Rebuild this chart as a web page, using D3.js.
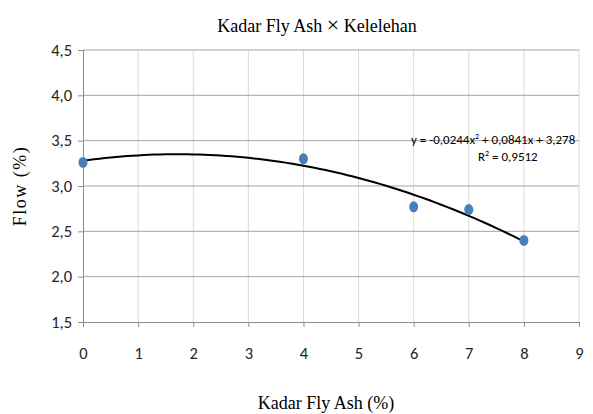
<!DOCTYPE html>
<html>
<head>
<meta charset="utf-8">
<script src="https://cdn.jsdelivr.net/npm/d3@7"></script>
<style>
  body { margin: 0; background: #fff; }
  svg { display: block; }
</style>
</head>
<body>
<script>
// data
var kadar = [0, 4, 6, 7, 8];
var flow = [3.26, 3.30, 2.77, 2.74, 2.40];
// trendline coefficients as printed on the chart (a x^2 + b x + c)
var trendCoef = [-0.0244, 0.0841, 3.278];
var xTicks = [0, 1, 2, 3, 4, 5, 6, 7, 8, 9];
var yTicks = [1.5, 2.0, 2.5, 3.0, 3.5, 4.0, 4.5];

(function () {
    var width = 593, height = 414;
    var plotLeft = 83, plotRight = 579, plotTop = 50, plotBottom = 322;

    var svg = d3.select('body').append('svg').attr('width', width).attr('height', height);

    var x = d3.scaleLinear().domain([0, 9]).range([plotLeft, plotRight]);
    var y = d3.scaleLinear().domain([1.5, 4.5]).range([plotBottom, plotTop]);

    var fmt = function (d) { return d3.format('.1f')(d).replace('.', ','); };
    var tickFont = '"Liberation Sans Narrow", "Arial Narrow", Carlito, "Open Sans", sans-serif';

    // vertical gridlines (light)
    svg.append('g').selectAll('line').data(xTicks.slice(1)).enter().append('line')
        .attr('x1', function (d) { return x(d); }).attr('x2', function (d) { return x(d); })
        .attr('y1', plotTop).attr('y2', plotBottom)
        .attr('stroke', '#d9d9d9').attr('stroke-width', 1);

    // horizontal gridlines (darker)
    svg.append('g').selectAll('line').data(yTicks.slice(1)).enter().append('line')
        .attr('x1', plotLeft).attr('x2', plotRight)
        .attr('y1', function (d) { return y(d); }).attr('y2', function (d) { return y(d); })
        .attr('stroke', '#a6a6a6').attr('stroke-width', 1);

    // axes
    var xAxis = svg.append('g').attr('transform', 'translate(0,' + plotBottom + ')')
        .call(d3.axisBottom(x).tickValues(xTicks).tickSize(5).tickPadding(20).tickFormat(d3.format('d')));
    var yAxis = svg.append('g').attr('transform', 'translate(' + plotLeft + ',0)')
        .call(d3.axisLeft(y).tickValues(yTicks).tickSize(5).tickPadding(6).tickFormat(fmt));

    [xAxis, yAxis].forEach(function (a) {
        a.select('.domain').attr('stroke', '#8c8c8c');
        a.selectAll('.tick line').attr('stroke', '#8c8c8c');
        a.selectAll('.tick text').attr('fill', '#262626')
            .style('font-family', tickFont).style('font-size', '16.5px');
    });

    // trendline
    function trend(v) { return trendCoef[0] * v * v + trendCoef[1] * v + trendCoef[2]; }
    var tx = d3.range(0, 8.001, 0.1);
    svg.append('path').datum(tx)
        .attr('fill', 'none').attr('stroke', '#000').attr('stroke-width', 2)
        .attr('d', d3.line().x(function (d) { return x(d); }).y(function (d) { return y(trend(d)); }));

    // points
    svg.append('g').selectAll('ellipse').data(kadar).enter().append('ellipse')
        .attr('cx', function (d) { return x(d); })
        .attr('cy', function (d, i) { return y(flow[i]); })
        .attr('rx', 4.5).attr('ry', 5.5)
        .attr('fill', '#4a7ebb');

    // equation
    var eq = svg.append('g').style('font-family', tickFont).style('font-size', '13px').attr('fill', '#000');
    var t1 = eq.append('text').attr('x', 411).attr('y', 144);
    t1.append('tspan').text('y = -0,0244x');
    t1.append('tspan').attr('font-size', '8px').attr('dy', -5).text('2');
    t1.append('tspan').attr('dy', 5).text(' + 0,0841x + 3,278');
    var t2 = eq.append('text').attr('x', 478).attr('y', 161);
    t2.append('tspan').text('R');
    t2.append('tspan').attr('font-size', '8px').attr('dy', -5).text('2');
    t2.append('tspan').attr('dy', 5).text(' = 0,9512');

    // titles
    var serif = '"Liberation Serif", "Times New Roman", serif';
    var title = svg.append('text').attr('x', 317).attr('y', 32).attr('text-anchor', 'middle')
        .style('font-family', serif).style('font-size', '18px');
    title.append('tspan').text('Kadar Fly Ash ');
    title.append('tspan').style('font-size', '22px').attr('font-weight', 100).text('\u00d7');
    title.append('tspan').text(' Kelelehan');
    svg.append('text').attr('transform', 'translate(26,186) rotate(-90)').attr('text-anchor', 'middle')
        .style('font-family', serif).style('font-size', '18px').style('letter-spacing', '1.5px').text('Flow (%)');
    svg.append('text').attr('x', 326).attr('y', 409).attr('text-anchor', 'middle')
        .style('font-family', serif).style('font-size', '18px').text('Kadar Fly Ash (%)');
})();
</script>
</body>
</html>
